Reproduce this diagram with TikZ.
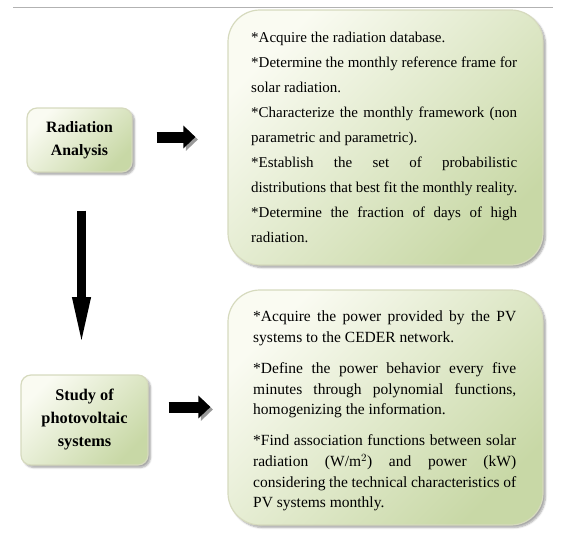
\documentclass[tikz,border=0pt]{standalone}
\usepackage{fontspec}
\setmainfont{Liberation Serif}
\usetikzlibrary{arrows.meta,shadows.blur}
\definecolor{boxlight}{RGB}{250,251,242}
\definecolor{boxdark}{RGB}{200,216,166}
\definecolor{boxedge}{RGB}{214,218,190}

\begin{document}
\begin{tikzpicture}[x=1pt,y=-1pt,
    greenbox/.style={rectangle, rounded corners=#1, draw=boxedge, line width=1.2pt,
      top color=boxlight, bottom color=boxdark, shading angle=45,
      blur shadow={shadow xshift=2.5pt, shadow yshift=-2.5pt, shadow blur steps=6, shadow opacity=35}},
    greenbox/.default=10pt,
    titlebox/.style={greenbox, align=center},
    listbox/.style={greenbox=32pt, inner sep=0pt},
    listtext/.style={text width=#1, align=justify, inner sep=0pt},
    fatarrow/.style={line width=11pt, -{Triangle[length=12pt,width=22pt]},
      preaction={draw=black!40, transform canvas={xshift=2.5pt,yshift=-2.5pt}}},
    downarrow/.style={line width=9pt, -{Triangle[length=52pt,width=16pt]},
      preaction={draw=black!40, transform canvas={xshift=3pt,yshift=-2pt}}}]
  \useasboundingbox (0,0) rectangle (563,541);
  \draw[black!30, line width=0.8pt] (13,7) -- (553,7);

  % left column
  \node[titlebox, minimum width=105pt, minimum height=64pt,
    font=\fontsize{15.8}{23}\selectfont\bfseries] (ra) at (79.5,140) {Radiation\\Analysis};
  \node[titlebox, minimum width=127pt, minimum height=90pt,
    font=\fontsize{16.3}{23}\selectfont\bfseries] (pv) at (84.5,420) {Study of\\photovoltaic\\systems};

  % right column
  \node[listbox, minimum width=315pt, minimum height=255pt] (rt) at (385.5,137.5) {};
  \node[listtext=266pt, font=\fontsize{15}{25}\selectfont, anchor=north west] at (251,32) {%
    \hyphenpenalty=10000 \parindent=0pt
    *Acquire the radiation database.\par
    *Determine the monthly reference frame for\linebreak solar radiation.\par
    *Characterize the monthly framework (non\linebreak parametric and parametric).\par
    *Establish the set of probabilistic\linebreak distributions that best fit the monthly reality.\par
    *Determine the fraction of days of high\linebreak radiation.\par};
  \node[listbox, minimum width=315pt, minimum height=235pt] (rb) at (385.5,407.5) {};
  \node[listtext=263pt, font=\fontsize{15.5}{20.6}\selectfont, anchor=north west] at (253,311) {%
    \hyphenpenalty=10000 \parindent=0pt
    *Acquire the power provided by the PV\linebreak systems to the CEDER network.\par\vspace{10.5pt}
    *Define the power behavior every five\linebreak minutes through polynomial functions,\linebreak homogenizing the information.\par\vspace{10.5pt}
    *Find association functions between solar\linebreak radiation (W/m$^2$) and power (kW)\linebreak considering the technical characteristics of\linebreak PV systems monthly.\par};

  % arrows
  \coordinate (down end) at (81.5,349);
  \draw[fatarrow] ([xshift=24pt,yshift=3pt]ra.east) -- ([xshift=-32pt,yshift=3pt]ra.east -| rt.west);
  \draw[fatarrow] ([xshift=20pt,yshift=13pt]pv.east) -- ([xshift=-17pt,yshift=13pt]pv.east -| rb.west);
  \draw[downarrow] ([xshift=2pt,yshift=-38pt]ra.south) -- (down end);
\end{tikzpicture}
\end{document}
